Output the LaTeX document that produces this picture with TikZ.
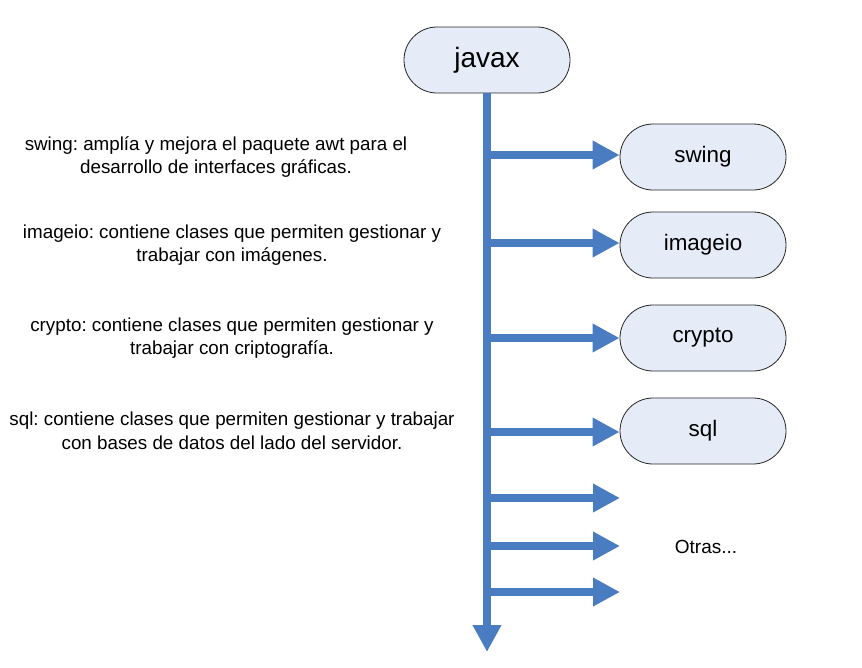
\documentclass[tikz,border=0pt]{standalone}
\usepackage{fontspec}
\setmainfont{Liberation Sans}
\usetikzlibrary{shapes.misc,arrows.meta}
\definecolor{arrowblue}{HTML}{4A7CC2}
\definecolor{pillfill}{HTML}{E6ECF7}
\frenchspacing
\begin{document}
\begin{tikzpicture}[x=1pt,y=-1pt,
  pill/.style={rounded rectangle, draw=black!85, line width=0.8pt, fill=pillfill,
    minimum width=166pt, minimum height=66pt, inner sep=0pt},
  flow/.style={draw=arrowblue, line width=7.5pt,
    -{Triangle[length=27pt,width=27pt]}},
  desc/.style={align=center, font=\fontsize{18.8}{23.5}\selectfont, inner sep=0pt}]
\useasboundingbox (0,0) rectangle (862,667);
\node[pill, font=\fontsize{28}{32}\selectfont] (javax) at (487,60) {javax};
\node[pill, font=\fontsize{22.4}{26}\selectfont] (swing) at (703,157) {swing};
\node[pill, font=\fontsize{22.4}{26}\selectfont] (imageio) at (703,245) {imageio};
\node[pill, font=\fontsize{22.4}{26}\selectfont] (crypto) at (703,338) {crypto};
\node[pill, font=\fontsize{22.4}{26}\selectfont] (sql) at (703,431) {sql};
\node[font=\fontsize{19}{22}\selectfont] (otras) at (706,547) {Otras...};
\coordinate (bottom) at (487,652);
\coordinate (j1) at (487,155);
\coordinate (j2) at (487,243);
\coordinate (j3) at (487,338);
\coordinate (j4) at (487,432);
\coordinate (j5) at (487,498);
\coordinate (j6) at (487,546);
\coordinate (j7) at (487,592);
\coordinate (e5) at (620,498);
\coordinate (e6) at (620,546);
\coordinate (e7) at (620,592);
\draw[flow] (j1) -- (swing.west |- j1);
\draw[flow] (j2) -- (imageio.west |- j2);
\draw[flow] (j3) -- (crypto.west |- j3);
\draw[flow] (j4) -- (sql.west |- j4);
\draw[flow] (j5) -- (e5);
\draw[flow] (j6) -- (e6);
\draw[flow] (j7) -- (e7);
\draw[flow] (javax.south) -- (bottom);
\node[desc] (dswing) at (216,157) {swing: amplía y mejora el paquete awt para el\\desarrollo de interfaces gráficas.};
\node[desc] (dimageio) at (232,245) {imageio: contiene clases que permiten gestionar y\\trabajar con imágenes.};
\node[desc] (dcrypto) at (232,338) {crypto: contiene clases que permiten gestionar y\\trabajar con criptografía.};
\node[desc] (dsql) at (232,431) {sql: contiene clases que permiten gestionar y trabajar\\con bases de datos del lado del servidor.};
\end{tikzpicture}
\end{document}
